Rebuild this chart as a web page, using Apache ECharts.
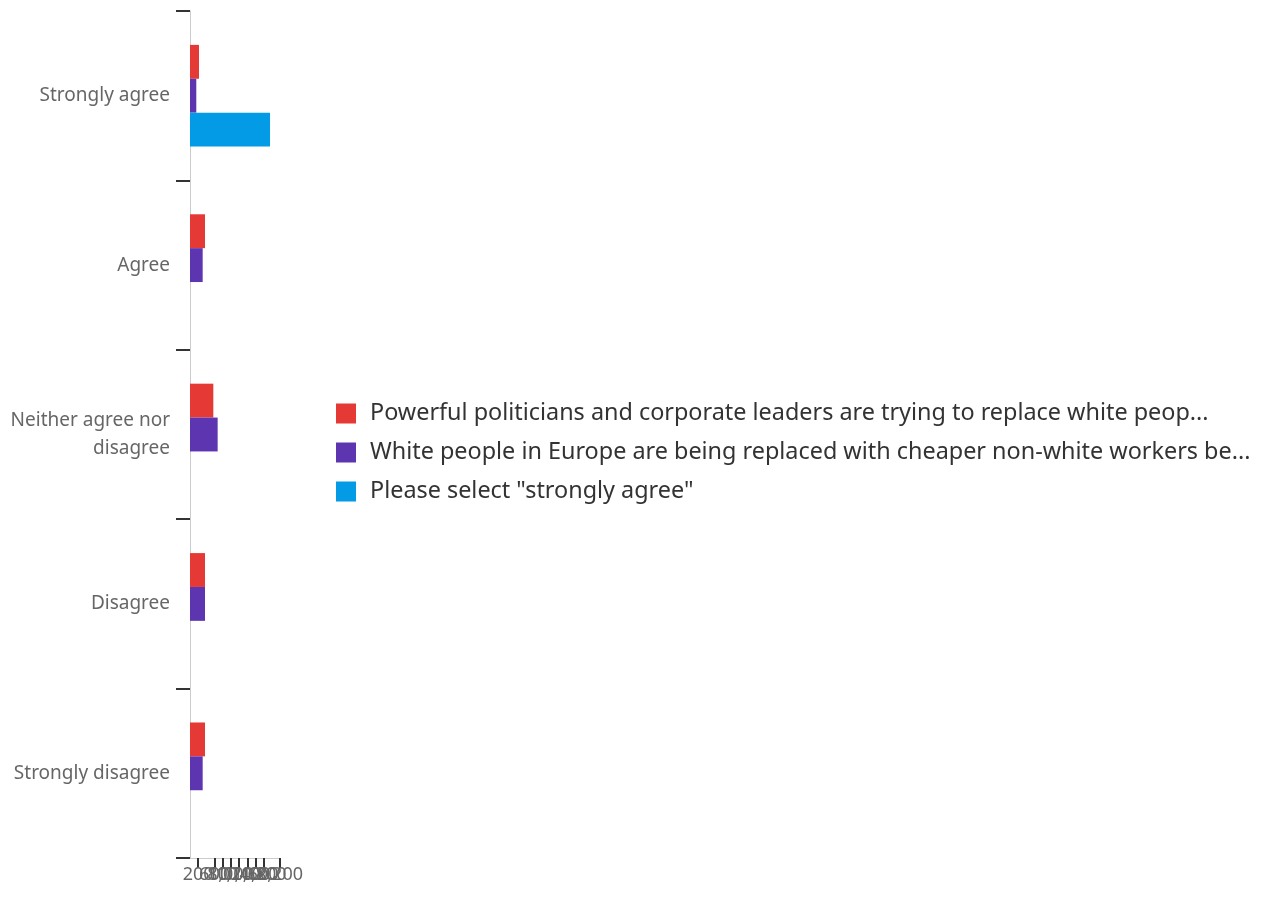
<!DOCTYPE html>
<html>
<head>
<meta charset="utf-8">
<script src="https://cdn.jsdelivr.net/npm/echarts@6/dist/echarts.min.js"></script>
<style>
html,body{margin:0;padding:0;background:#fff;}
#chart{width:1270px;height:897px;}
</style>
</head>
<body>
<div id="chart"></div>
<script>
const categories = ["Strongly agree", "Agree", "Neither agree nor\ndisagree", "Disagree", "Strongly disagree"];
const seriesNames = [
  "Powerful politicians and corporate leaders are trying to replace white peop...",
  "White people in Europe are being replaced with cheaper non-white workers be...",
  "Please select \"strongly agree\""
];
const replacePoliticians = [220, 366, 570, 366, 366];
const replaceWorkers = [154, 310, 676, 366, 310];
const attentionCheck = [1956, 0, 0, 0, 0];
const xTicks = [200, 400, 600, 800, 1000, 1200, 1400, 1600, 1800, 2000, 2200];
const colors = ["#E53935", "#5E35B1", "#039BE5"];

const chart = echarts.init(document.getElementById('chart'), null, {renderer: 'canvas'});
const labelFont = "Noto Sans";
chart.setOption({
  animation: false,
  color: colors,
  grid: {left: 190, right: 990, top: 11, bottom: 39, containLabel: false},
  legend: {
    orient: 'vertical',
    left: 331,
    top: 397,
    itemWidth: 20,
    itemHeight: 20,
    itemGap: 16,
    icon: 'rect',
    textStyle: {fontFamily: labelFont, fontSize: 23.4, color: '#333', lineHeight: 23, padding: [0, 0, 0, 9]},
    data: seriesNames
  },
  xAxis: {
    type: 'value',
    min: 0,
    max: 2200,
    interval: 200,
    splitLine: {show: false},
    axisLine: {show: true, lineStyle: {color: '#cccccc', width: 1}},
    axisTick: {show: true, length: 10, customValues: xTicks, lineStyle: {color: '#333', width: 2}},
    axisLabel: {customValues: xTicks, hideOverlap: false, showMinLabel: true, showMaxLabel: true,
      fontFamily: labelFont, fontSize: 18, color: '#666', margin: 8}
  },
  yAxis: {
    type: 'category',
    inverse: true,
    data: categories,
    axisLine: {show: true, lineStyle: {color: '#cccccc', width: 1}},
    axisTick: {show: true, length: 14, lineStyle: {color: '#333', width: 2}},
    axisLabel: {fontFamily: labelFont, fontSize: 19, color: '#666', margin: 20, lineHeight: 28, align: 'right',
      padding: [5, 0, 0, 0]}
  },
  series: [
    {name: seriesNames[0], type: 'bar', data: replacePoliticians, barGap: '0%', barCategoryGap: '40%'},
    {name: seriesNames[1], type: 'bar', data: replaceWorkers, barGap: '0%', barCategoryGap: '40%'},
    {name: seriesNames[2], type: 'bar', data: attentionCheck, barGap: '0%', barCategoryGap: '40%'}
  ]
});
</script>
</body>
</html>
